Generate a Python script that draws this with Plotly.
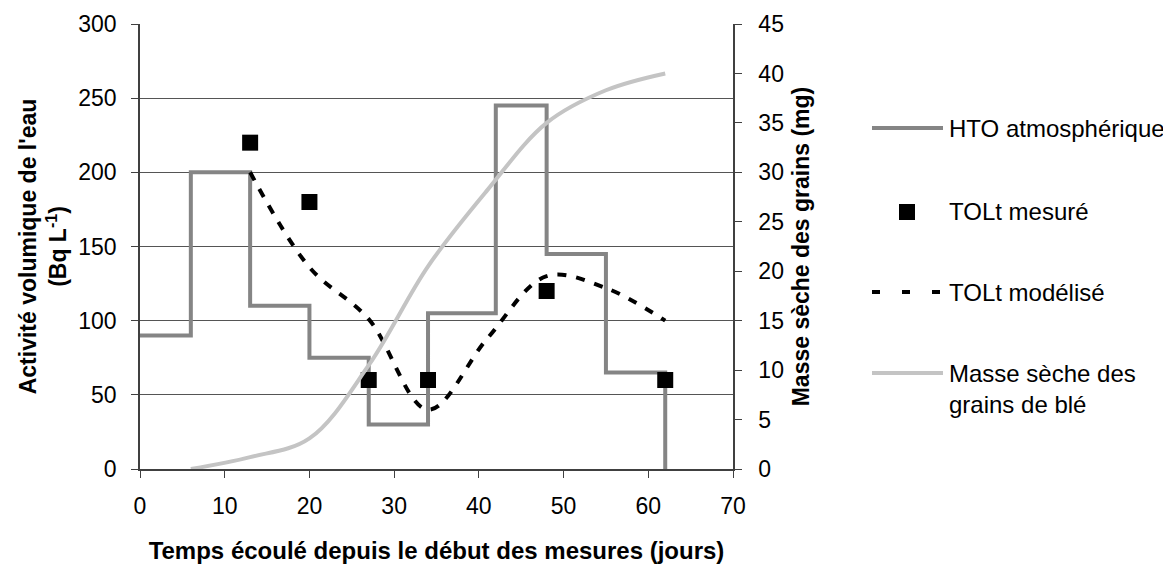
import plotly.graph_objects as go

# HTO atmosphérique (step series, Bq/L)
hto_days = [0, 6, 13, 20, 27, 34, 42, 48, 55, 62]
hto_values = [90, 200, 110, 75, 30, 105, 245, 145, 65, 0]

# TOLt mesuré
measured_days = [13, 20, 27, 34, 48, 62]
measured_values = [220, 180, 60, 60, 120, 60]

# TOLt modélisé
model_days = [13, 20, 27, 34, 41, 48, 55, 62]
model_values = [200, 136, 101, 40, 88, 130, 122, 100]

# Masse sèche des grains de blé (mg, right axis)
mass_days = [6, 13, 20, 27, 34, 41, 48, 55, 62]
mass_values = [0, 1.2, 3.1, 10.5, 20.5, 28.2, 35.0, 38.3, 40.0]

legend_names = ['HTO atmosphérique', 'TOLt mesuré', 'TOLt modélisé',
                'Masse sèche des<br>grains de blé']

FONT = 'Liberation Sans, Arial, sans-serif'
HTO_COLOR = '#858585'
MASS_COLOR = '#c4c4c4'
AXIS_COLOR = '#404040'

# page body has an 8px margin, so the figure is drawn 8px smaller
W, H = 1163, 556
L, T = 132, 16
PW, PH = 593, 445

fig = go.Figure()
fig.add_trace(go.Scatter(x=hto_days, y=hto_values, mode='lines', line_shape='hv',
                         line=dict(color=HTO_COLOR, width=4), name=legend_names[0]))
fig.add_trace(go.Scatter(x=mass_days, y=mass_values, mode='lines', line_shape='spline',
                         line=dict(color=MASS_COLOR, width=4, smoothing=1),
                         yaxis='y2', name=legend_names[3]))
fig.add_trace(go.Scatter(x=model_days, y=model_values, mode='lines', line_shape='spline',
                         line=dict(color='black', width=4, dash='9px,10px', smoothing=1),
                         name=legend_names[2]))
fig.add_trace(go.Scatter(x=measured_days, y=measured_values, mode='markers',
                         marker=dict(symbol='square', size=16, color='black'),
                         name=legend_names[1]))


# hand-drawn legend (long line samples like the original), positions in screen px
def px(X):
    return (X - 8 - L) / PW


def py(Y):
    return (T + 8 + PH - Y) / PH


shapes = [
    dict(type='line', xref='paper', yref='paper', x0=px(872), x1=px(943), y0=py(128), y1=py(128),
         line=dict(color=HTO_COLOR, width=4)),
    dict(type='rect', xref='paper', yref='paper', x0=px(899), x1=px(915), y0=py(220), y1=py(204),
         fillcolor='black', line=dict(width=0)),
    dict(type='line', xref='paper', yref='paper', x0=px(872), x1=px(943), y0=py(292), y1=py(292),
         line=dict(color='black', width=4, dash='8px,22px')),
    dict(type='line', xref='paper', yref='paper', x0=px(872), x1=px(943), y0=py(373), y1=py(373),
         line=dict(color=MASS_COLOR, width=4)),
]
annotations = []
for name, Y in zip(legend_names, [128, 212, 292, 389]):
    annotations.append(dict(text=name, xref='paper', yref='paper', x=px(947), y=py(Y),
                            xanchor='left', yanchor='middle', showarrow=False, align='left',
                            font=dict(family=FONT, size=24, color='black')))

axis_style = dict(zeroline=False, showline=True, linecolor=AXIS_COLOR, linewidth=1.5,
                  ticks='outside', ticklen=7, tickcolor=AXIS_COLOR, automargin=False)

fig.update_layout(
    width=W, height=H,
    margin=dict(l=L, r=W - L - PW, t=T, b=H - T - PH),
    plot_bgcolor='white', paper_bgcolor='white',
    font=dict(family=FONT, size=23, color='black'),
    showlegend=False,
    shapes=shapes, annotations=annotations,
    xaxis=dict(range=[0, 70], dtick=10, showgrid=False, ticklabelstandoff=9,
               title=dict(text='<b>Temps écoulé depuis le début des mesures (jours)</b>',
                          font=dict(size=24), standoff=29),
               **axis_style),
    yaxis=dict(range=[0, 300], dtick=50, showgrid=True, gridcolor='#555555', gridwidth=1,
               ticklabelstandoff=10,
               title=dict(text='<b>Activité volumique de l\'eau<br>(Bq L<sup>-1</sup>)</b>',
                          font=dict(size=23), standoff=5),
               **axis_style),
    yaxis2=dict(range=[0, 45], dtick=5, overlaying='y', side='right', showgrid=False,
                ticklabelstandoff=12,
                title=dict(text='<b>Masse sèche des grains (mg)</b>', font=dict(size=23),
                           standoff=10),
                **axis_style),
)

fig.write_html('out.html')
